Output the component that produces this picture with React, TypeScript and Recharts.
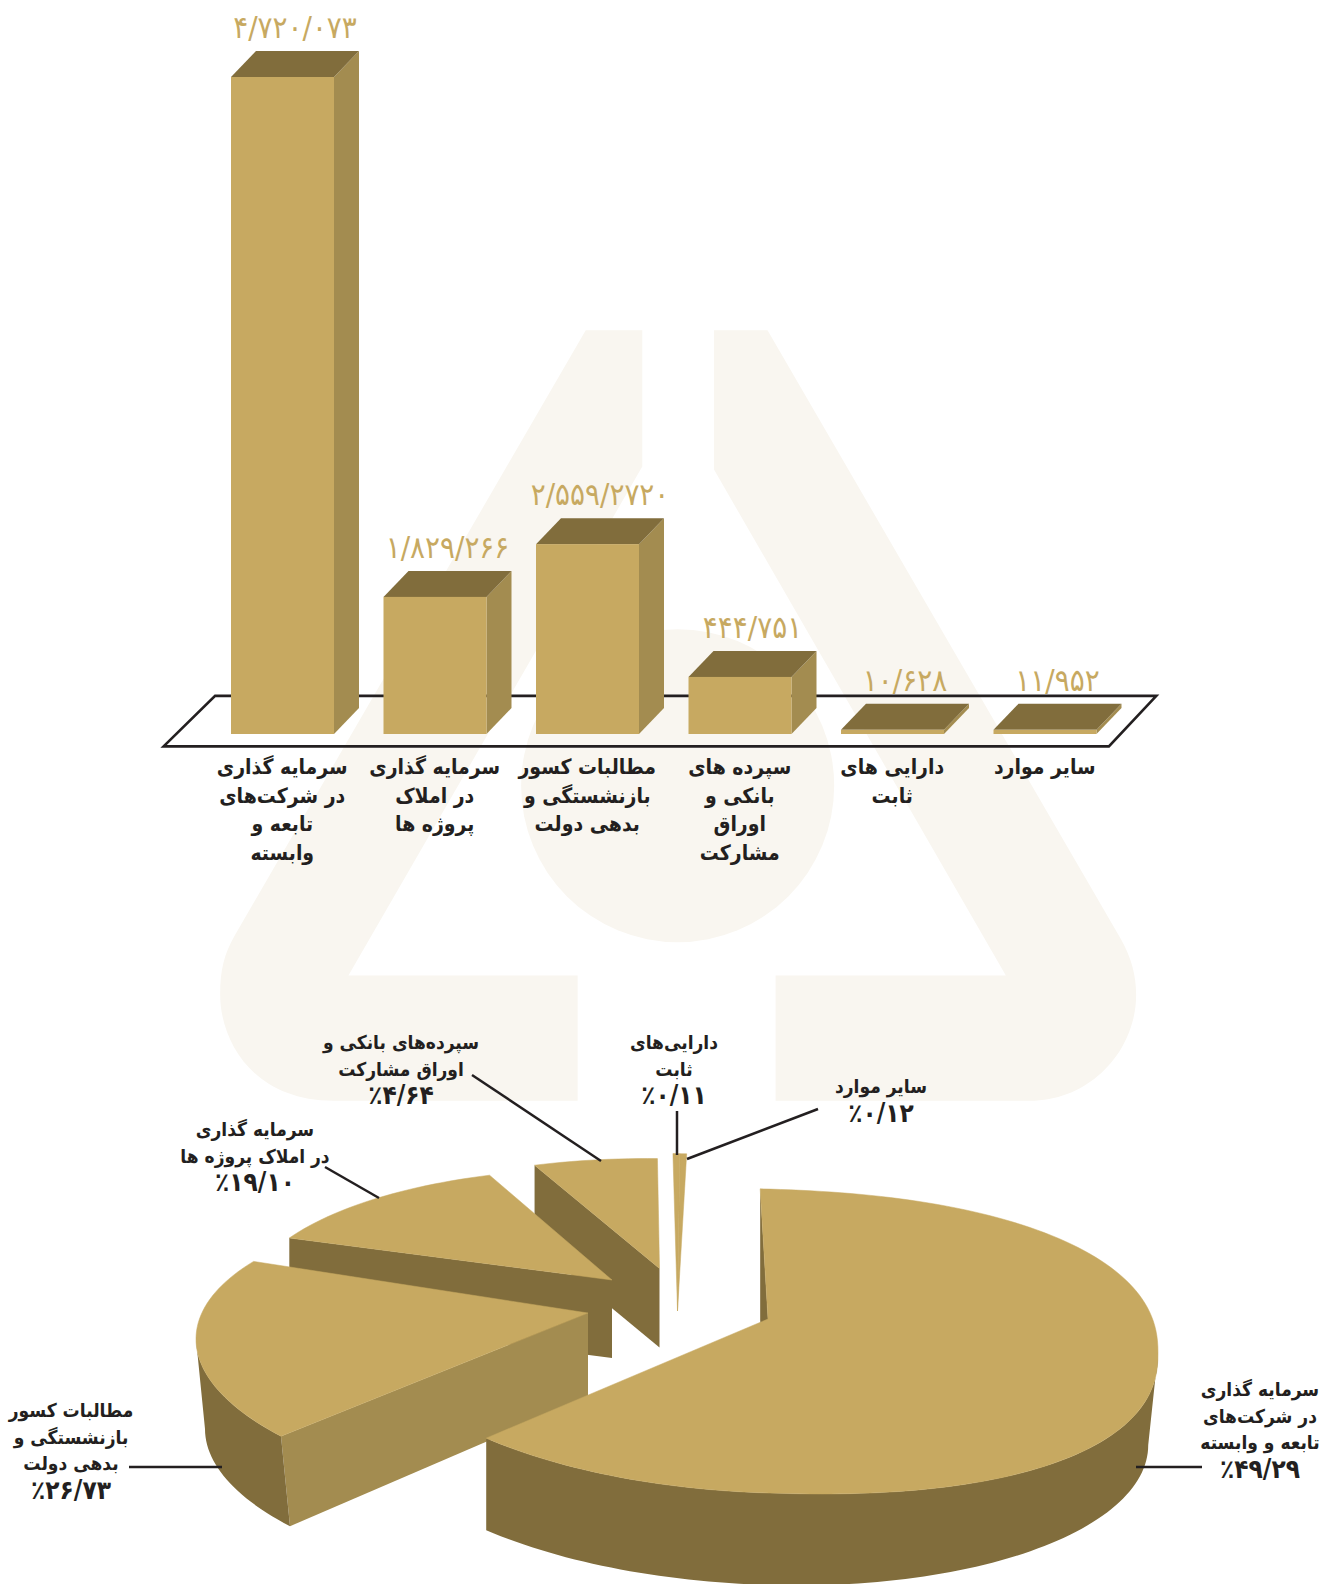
import React from "react";
import { BarChart, Bar, XAxis, YAxis, LabelList, PieChart, Pie } from "recharts";

const FONT = "'DejaVu Sans Condensed', 'DejaVu Sans', sans-serif";
const GOLD = "#c7a961";
const SIDE = "#a38c50";
const DARK = "#816d3c";
const INK = "#231f20";

// bar chart: the drawn heights are not to scale with their printed labels, so both are kept
const barCategories = [
  "سرمایه گذاری\nدر شرکت‌های\nتابعه و\nوابسته",
  "سرمایه گذاری\nدر املاک\nپروژه ها",
  "مطالبات کسور\nبازنشستگی و\nبدهی دولت",
  "سپرده های\nبانکی و\nاوراق\nمشارکت",
  "دارایی های\nثابت",
  "سایر موارد",
];
const barHeights = [4720073, 985000, 1364000, 410000, 30000, 30000];
const barLabels = ["۴/۷۲۰/۰۷۳", "۱/۸۲۹/۲۶۶", "۲/۵۵۹/۲۷۲۰", "۴۴۴/۷۵۱", "۱۰/۶۲۸", "۱۱/۹۵۲"];

const pieNames = [
  "سایر موارد\n٪۰/۱۲",
  "دارایی‌های\nثابت\n٪۰/۱۱",
  "سپرده‌های بانکی و\nاوراق مشارکت\n٪۴/۶۴",
  "سرمایه گذاری\nدر املاک پروژه ها\n٪۱۹/۱۰",
  "مطالبات کسور\nبازنشستگی و\nبدهی دولت\n٪۲۶/۷۳",
  "سرمایه گذاری\nدر شرکت‌های\nتابعه و وابسته\n٪۴۹/۲۹",
];
const pieShares = [0.28, 0.28, 5.14, 11.11, 19.44, 63.75];

const barData = barCategories.map((name, i) => ({ name, height: barHeights[i], label: barLabels[i] }));
const pieData = pieNames.map((name, i) => ({ name, share: pieShares[i], i }));

// explode offsets and extrusion for each slice
const sliceLayout = [
  { dx: -73.5, dy: -35, ax: -16, ay: 5, depth: 0, cut: 0, rimCut: 0, spin: 0, trim: 0, sx: 0, cutFill: DARK },
  { dx: -73.5, dy: -35, ax: -16, ay: 5, depth: 0, cut: 0, rimCut: 0, spin: 0, trim: 0, sx: 0, cutFill: DARK },
  { dx: -89, dy: -30, ax: -18.5, ay: -42.6, depth: 79, cut: 79, rimCut: 79, spin: 0, trim: 0, sx: 0, cutFill: DARK },
  { dx: -134, dy: -20, ax: -21, ay: -41, depth: 78, cut: 78, rimCut: 78, spin: 0, trim: 0, sx: 0, cutFill: DARK },
  { dx: -180, dy: 10, ax: 1, ay: -38, depth: 90, cut: 85, rimCut: 90, spin: -3, trim: 0, sx: 9, cutFill: SIDE },
  { dx: 0, dy: 0, ax: 1, ay: -22, depth: 92, cut: 131, rimCut: 131, spin: 0, trim: 2.6, sx: 0, cutFill: DARK },
];

const labelLayout = [
  { x: 881, y: 86, line: [818, 109, 687, 159] },
  { x: 674, y: 42, line: [677, 111, 677, 155] },
  { x: 401, y: 42, line: [472, 75, 601, 161] },
  { x: 255, y: 129, line: [325, 167, 379, 198] },
  { x: 71, y: 410, line: [129, 467, 222, 467] },
  { x: 1260, y: 389, line: [1136, 467, 1202, 467] },
];

const BAR_DEPTH = 25;
const TILT = 0.3887;
const SHEAR = 12;
const RIGHT_EXP = 2.3;
const RIGHT_TAPER = 0.975;

function Bar3D({ x, y, width, height }: any) {
  const r = x + width;
  return (
    <g>
      <polygon fill={SIDE} points={`${r},${y} ${r + BAR_DEPTH},${y - 26} ${r + BAR_DEPTH},${y + height - 26} ${r},${y + height}`} />
      <polygon fill={DARK} points={`${x},${y} ${x + BAR_DEPTH},${y - 26} ${r + BAR_DEPTH},${y - 26} ${r},${y}`} />
      <rect x={x} y={y} width={width} height={height} fill={GOLD} />
    </g>
  );
}

function BarValue({ x, y, width, value }: any) {
  return (
    <text x={x + (width + BAR_DEPTH) / 2} y={y - 50} textAnchor="middle" dominantBaseline="central"
      fontFamily={FONT} fontSize={31} fill={GOLD}>
      {value}
    </text>
  );
}

function CategoryTick({ x, y, payload }: any) {
  return (
    <g>
      {String(payload.value).split("\n").map((line, i) => (
        <text key={i} x={x} y={y + 25 + i * 28.7} direction="rtl" textAnchor="middle" dominantBaseline="central"
          fontFamily={FONT} fontWeight="bold" fontSize={21} fill={INK}>
          {line}
        </text>
      ))}
    </g>
  );
}

// the pie's rim is a slanted ellipse, a little squarer on its right side (top face only)
function arcPoints(ex: number, ey: number, rx: number, from: number, to: number, exp = RIGHT_EXP) {
  const pts: number[][] = [];
  const n = Math.max(1, Math.ceil((to - from) / 1.5));
  for (let k = 0; k <= n; k++) {
    const a = ((from + ((to - from) * k) / n) * Math.PI) / 180;
    const c = Math.cos(a);
    const s = Math.sin(a);
    const v = c > 0 ? Math.pow(1 - Math.pow(c, exp), 1 / exp) : Math.abs(s);
    pts.push([ex + rx * c, ey + SHEAR * c - Math.sign(s) * rx * TILT * v]);
  }
  return pts;
}

const toPoints = (pts: number[][]) => pts.map((p) => `${p[0]},${p[1]}`).join(" ");

function Slice3D(props: any) {
  const { cx, cy, outerRadius, startAngle, endAngle, i } = props;
  const s = sliceLayout[i];
  const ex = cx + s.dx;
  const ey = cy + s.dy;
  const apex = [ex + s.ax, ey + s.ay];
  const from = Math.min(startAngle, endAngle) + s.spin;
  const to = Math.max(startAngle, endAngle) + s.spin;
  const rim = arcPoints(ex, ey, outerRadius, from + s.trim, to);

  const wallFrom = Math.max(from + s.trim, 180);
  const wallTo = Math.min(to, 360);
  const wall = wallTo > wallFrom ? arcPoints(ex, ey, outerRadius, wallFrom, wallTo) : [];
  const wallLow = wallTo > wallFrom
    ? arcPoints(ex, ey, outerRadius, wallFrom, wallTo, 2).map((p) => {
        const x = p[0] > ex ? ex + (p[0] - ex) * RIGHT_TAPER : p[0] + s.sx;
        return [x, p[1] + s.depth];
      })
    : [];

  const end = rim[rim.length - 1];
  return (
    <g>
      {s.cut > 0 && (
        <polygon fill={s.cutFill}
          points={toPoints([end, apex, [apex[0], apex[1] + s.cut], [end[0] + s.sx, end[1] + s.rimCut]])} />
      )}
      {wall.length > 0 && s.depth > 0 && (
        <polygon fill={DARK} points={toPoints([...wall, ...wallLow.reverse()])} />
      )}
      <polygon fill={GOLD} stroke={GOLD} strokeWidth={0.5} points={toPoints([apex, ...rim])} />
    </g>
  );
}

function SliceLabel({ index, name }: any) {
  const l = labelLayout[index];
  return (
    <g>
      <line x1={l.line[0]} y1={l.line[1]} x2={l.line[2]} y2={l.line[3]} stroke={INK} strokeWidth={2.5} />
      {String(name).split("\n").map((line, i) => (
        <text key={i} x={l.x} y={l.y + i * 26.6} direction="rtl" textAnchor="middle" dominantBaseline="central"
          fontFamily={FONT} fontWeight="bold" fontSize={line.startsWith("٪") ? 26 : 19} fill={INK}>
          {line}
        </text>
      ))}
    </g>
  );
}

export default function App() {
  return (
    <div style={{ position: "absolute", left: 0, top: 0, width: 1326, height: 1584, background: "#fff", overflow: "hidden" }}>
      {/* watermark and the floor under the bars */}
      <svg width={1326} height={1584} style={{ position: "absolute", left: 0, top: 0 }}>
        <g transform="scale(1.0099)" fill="#f9f6f0">
          <path d="M580 327 L636 327 L636 462 L345 966 L572 966 L572 1090 L330 1090 C250 1090 218 1030 218 985 C218 960 222 945 232 927 Z" />
          <path d="M707 327 L760 327 L1110 930 C1120 948 1125 965 1125 985 C1125 1040 1080 1090 1020 1090 L768 1090 L768 966 L996 966 L707 465 Z" />
          <circle cx={671} cy={778} r={155} />
          <polygon fill="none" stroke={INK} strokeWidth={2.6} points="213,689 1145,689 1098,739 162,739" />
        </g>
      </svg>

      <div style={{ position: "absolute", left: 0, top: 0 }}>
        <BarChart width={1326} height={880} data={barData} barSize={103} margin={{ top: 77, right: 205, bottom: 0, left: 206 }}>
          <XAxis dataKey="name" axisLine={false} tickLine={false} height={146} interval={0} tick={<CategoryTick />} />
          <YAxis hide domain={[0, 4720073]} />
          <Bar dataKey="height" shape={<Bar3D />} isAnimationActive={false}>
            <LabelList dataKey="label" content={<BarValue />} />
          </Bar>
        </BarChart>
      </div>

      <div style={{ position: "absolute", left: 0, top: 1000 }}>
        <PieChart width={1326} height={584} margin={{ top: 0, right: 0, bottom: 0, left: 0 }}>
          <Pie
            data={pieData}
            dataKey="share"
            nameKey="name"
            cx={767}
            cy={341}
            outerRadius={391}
            startAngle={91}
            endAngle={451}
            stroke="none"
            shape={Slice3D as any}
            label={SliceLabel as any}
            labelLine={false}
            isAnimationActive={false}
          />
        </PieChart>
      </div>
    </div>
  );
}
